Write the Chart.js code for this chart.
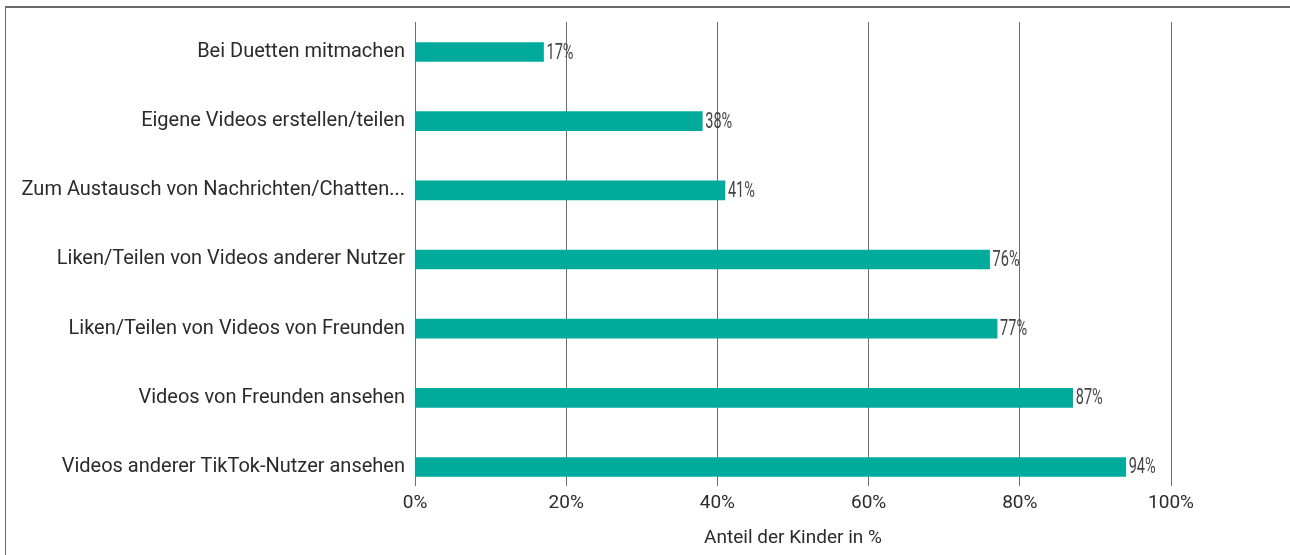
<!DOCTYPE html>
<html lang="de">
<head>
<meta charset="utf-8">
<script src="https://cdn.jsdelivr.net/npm/chart.js@4.4.1/dist/chart.umd.min.js"></script>
<style>
  html, body { margin: 0; padding: 0; background: #fff; }
  #wrap { position: relative; width: 1290px; height: 555px; }
  #frame { position: absolute; left: 5px; top: 6px; right: 0; bottom: 0;
           border-top: 2px solid #6b6b6b; border-left: 1px solid #6b6b6b; }
  canvas { position: absolute; left: 0; top: 0; }
</style>
</head>
<body>
<div id="wrap">
  <div id="frame"></div>
  <canvas id="c" width="1290" height="555"></canvas>
</div>
<script>
// Activities on TikTok, share of children (%)
const categories = [
  'Bei Duetten mitmachen',
  'Eigene Videos erstellen/teilen',
  'Zum Austausch von Nachrichten/Chatten...',
  'Liken/Teilen von Videos anderer Nutzer',
  'Liken/Teilen von Videos von Freunden',
  'Videos von Freunden ansehen',
  'Videos anderer TikTok-Nutzer ansehen'
];
const shares = [17, 38, 41, 76, 77, 87, 94];
const xTicks = [0, 20, 40, 60, 80, 100];
const xTitle = 'Anteil der Kinder in %';

const TEAL = '#00ab9c';
const INK = '#2b2b2b';
const GRID = '#6e6e6e';

// value labels at the end of each bar, in a condensed face
const valueLabels = {
  id: 'valueLabels',
  afterDatasetsDraw(chart) {
    const ctx = chart.ctx;
    const meta = chart.getDatasetMeta(0);
    ctx.save();
    ctx.font = '22px Roboto, sans-serif';
    ctx.fillStyle = '#444';
    ctx.textAlign = 'left';
    ctx.textBaseline = 'middle';
    meta.data.forEach((bar, i) => {
      ctx.save();
      ctx.translate(bar.x + 3, bar.y + 1);
      ctx.scale(0.66, 1);
      ctx.fillText(shares[i] + '%', 0, 0);
      ctx.restore();
    });
    ctx.restore();
  }
};

new Chart(document.getElementById('c'), {
  type: 'bar',
  data: {
    datasets: [{
      data: shares.map((v, i) => ({ x: v, y: i })),
      backgroundColor: TEAL,
      borderWidth: 0,
      barThickness: 19
    }]
  },
  plugins: [valueLabels],
  options: {
    indexAxis: 'y',
    responsive: false,
    animation: false,
    events: [],
    layout: { padding: { top: 22, right: 119, left: 0, bottom: 0 } },
    plugins: { legend: { display: false }, tooltip: { enabled: false } },
    scales: {
      x: {
        type: 'linear',
        min: 0, max: 100,
        afterBuildTicks(scale) { scale.ticks = xTicks.map(v => ({ value: v })); },
        afterFit(scale) { scale.height = 69; },
        grid: { color: GRID, lineWidth: 1, drawTicks: false },
        border: { display: false },
        ticks: {
          padding: 6,
          color: INK,
          font: { family: 'Roboto', size: 19 },
          callback: v => v + '%'
        },
        title: {
          display: true,
          text: xTitle,
          color: INK,
          font: { family: 'Roboto', size: 19 },
          padding: { top: 0, bottom: 5 }
        }
      },
      y: {
        type: 'linear',
        reverse: true,
        offset: false,
        min: -0.434,
        max: 6.275,
        afterBuildTicks(scale) { scale.ticks = categories.map((_, i) => ({ value: i })); },
        afterFit(scale) { scale.width = 415; },
        grid: { display: false },
        border: { display: false },
        ticks: {
          padding: 2,
          color: INK,
          font: { family: 'Roboto', size: 20 },
          callback: v => categories[v]
        }
      }
    }
  }
});
</script>
</body>
</html>
